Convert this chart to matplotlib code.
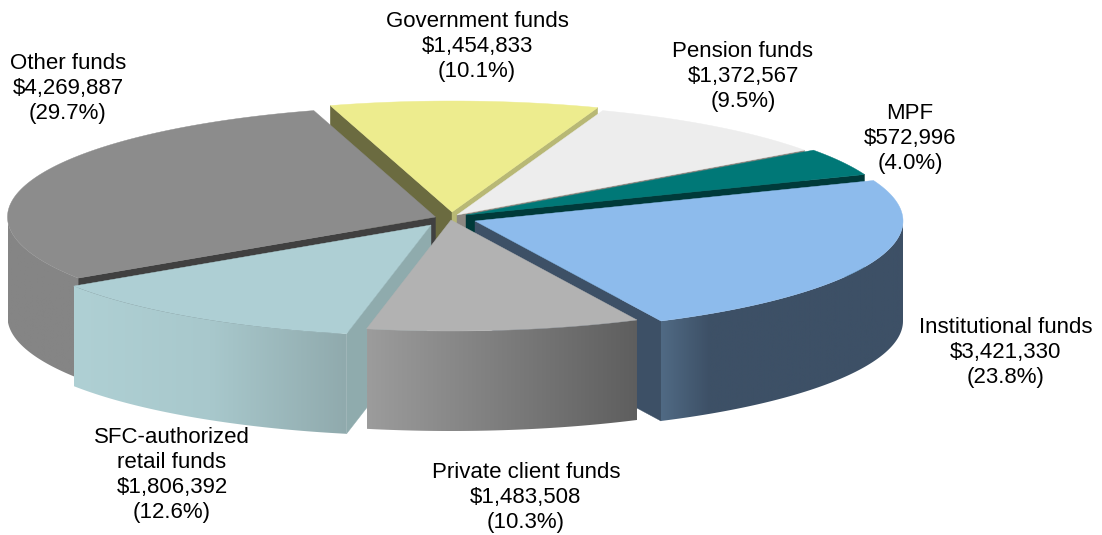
import numpy as np
import matplotlib
matplotlib.use('Agg')
import matplotlib.pyplot as plt
from matplotlib.colors import to_rgb
from matplotlib.patches import Polygon

plt.rcParams['font.family'] = ['Liberation Sans', 'DejaVu Sans']

# Fund categories, clockwise from the first slice
names = ['Institutional funds', 'Private client funds', 'SFC-authorized\nretail funds',
         'Other funds', 'Government funds', 'Pension funds', 'MPF']
amounts = [3421330, 1483508, 1806392, 4269887, 1454833, 1372567, 572996]
percents = [23.8, 10.3, 12.6, 29.7, 10.1, 9.5, 4.0]

# Styles per slice
top_colors = ['#8DBBEC', '#B2B2B2', '#AECFD4', '#8C8C8C', '#EDEC8E', '#EDEDED', '#007877']
wall_colors = [['#506A84', '#3D5066', '#3D5066', '#3D5066', '#3D5066', '#3D5066'],
               ['#9C9C9C', '#5E5E5E'],
               ['#AFD0D4', '#A8C8CC', '#90AAAD'],
               ['#858585', '#858585'],
               ['#6B6B40', '#6B6B40'],
               ['#C0C0C0', '#C0C0C0'],
               ['#003A3A', '#003A3A']]
start_faces = ['#3D5066', '#8C8C8C', '#8FABAD', '#404040', '#6B6B40', '#C0C0C0', '#005050']
end_faces = ['#3D5066', '#606060', '#8FABAD', '#404040', '#B8B875', '#8C8882', '#003A3A']
apexes = [(475, 221), (451, 220), (431, 225), (435.5, 217), (452, 212), (457, 215), (466, 215)]
label_pos = [(1006, 352.5), (526, 497.5), (172, 475), (68, 88.5), (477, 46.5), (743, 76.5), (910, 138.5)]
draw_order = [4, 5, 6, 3, 0, 2, 1]

RX, RY, DEPTH = 428, 111, 100
START_ANGLE = -21.4


def rim(apex, a0, a1, n=120):
    t = np.radians(np.linspace(a0, a1, n))
    return apex[0] + RX * np.cos(t), apex[1] + RY * np.sin(t)


def draw_slice(ax, i, a0, a1, z):
    apex = apexes[i]
    # radial cut faces, only those turned towards the viewer
    for ang, col, normal in ((a0, start_faces[i], a0 - 90), (a1, end_faces[i], a1 + 90)):
        if np.sin(np.radians(normal)) > 0:
            x, y = rim(apex, ang, ang, 1)
            ax.fill([apex[0], x[0], x[0], apex[0]],
                    [apex[1], y[0], y[0] + DEPTH, apex[1] + DEPTH],
                    color=col, lw=0.3, zorder=z)

    # outer wall, a horizontal colour ramp clipped to the wall outline
    lo, hi = max(a0, 0), min(a1, 180)
    if hi > lo:
        xs, ys = rim(apex, lo, hi)
        stops = np.array([to_rgb(c) for c in wall_colors[i]])
        grid = np.linspace(0, 1, len(stops))
        f = np.linspace(0, 1, 256)
        ramp = np.stack([np.interp(f, grid, stops[:, c]) for c in range(3)], axis=-1)[None, :, :]
        outline = Polygon(np.c_[np.r_[xs, xs[::-1]], np.r_[ys, ys[::-1] + DEPTH]],
                          transform=ax.transData)
        im = ax.imshow(ramp, extent=(xs.min(), xs.max(), ys.max() + DEPTH, ys.min()),
                       aspect='auto', zorder=z + 0.1)
        im.set_clip_path(outline)

    # top surface
    x, y = rim(apex, a0, a1)
    ax.fill(np.r_[apex[0], x], np.r_[apex[1], y], color=top_colors[i], lw=0.3, zorder=z + 0.2)


fig = plt.figure(figsize=(11.02, 5.35), dpi=100)
ax = fig.add_axes([0, 0, 1, 1])

sweep = np.array(amounts) / np.sum(amounts) * 360
bounds = START_ANGLE + np.r_[0, np.cumsum(sweep)]

for z, i in enumerate(draw_order):
    draw_slice(ax, i, bounds[i], bounds[i + 1], z + 1)

ax.set_xlim(0, 1102)
ax.set_ylim(535, 0)
ax.axis('off')

for name, amount, pct, pos in zip(names, amounts, percents, label_pos):
    ax.text(pos[0], pos[1], f'{name}\n${amount:,}\n({pct:.1f}%)', ha='center', va='center',
            fontsize=16, color='black', linespacing=1.26, zorder=20)

fig.savefig('out.png', dpi=100)
